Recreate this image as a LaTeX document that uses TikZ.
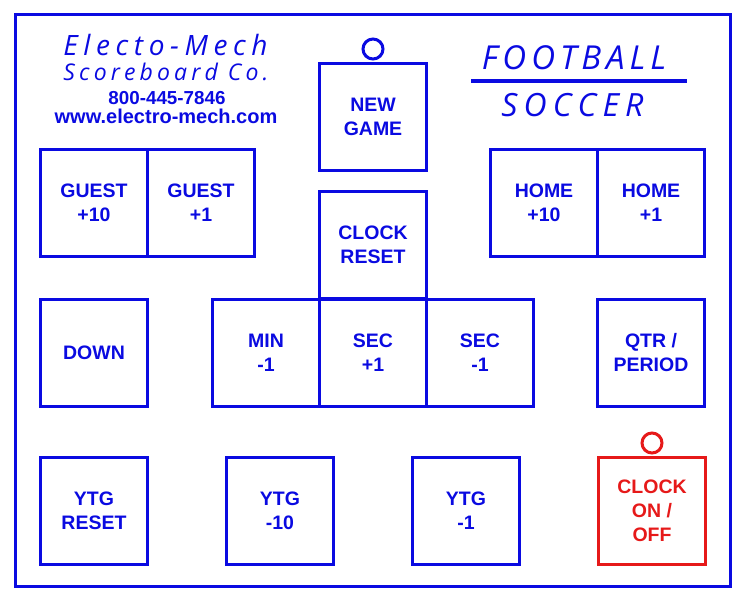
\documentclass[tikz,border=0pt]{standalone}
\usepackage{fontspec}
\setmainfont{Liberation Sans}
\newfontfamily\logoA[LetterSpace=20]{Open Sans}
\newfontfamily\logoB[LetterSpace=18]{Open Sans}
\newfontfamily\titleA[LetterSpace=15]{Open Sans}
\newfontfamily\titleB[LetterSpace=19]{Open Sans}
\definecolor{pblue}{RGB}{10,10,225}
\definecolor{pred}{RGB}{230,25,25}
\begin{document}
\begin{tikzpicture}[x=1pt,y=-1pt,
  btn/.style={draw=pblue, line width=3pt, minimum width=107pt, minimum height=107pt,
    inner sep=0pt, align=center, text=pblue, font=\bfseries\fontsize{19.5}{24}\selectfont},
  redbtn/.style={btn, draw=pred, text=pred},
  knob/.style={draw=pblue, line width=3pt, circle, minimum size=20pt, inner sep=0pt},
  redknob/.style={knob, draw=pred},
  label text/.style={anchor=base, text=pblue, inner sep=0pt}]
\useasboundingbox (0,0) rectangle (750,606);
% outer frame
\node[draw=pblue, line width=3pt, minimum width=715pt, minimum height=572pt, inner sep=0pt] (frame) at (372.5,300) {};
% logo texts
\node[label text, font=\logoA\itshape\fontsize{28}{28}\selectfont] (brand) at (165.5,55) {Electo-Mech};
\node[label text, font=\logoB\itshape\fontsize{23}{23}\selectfont] (company) at (166,80) {Scoreboard Co.};
\node[label text, font=\bfseries\fontsize{18.8}{18.8}\selectfont] (phone) at (167,104) {800-445-7846};
\node[label text, font=\bfseries\fontsize{20}{20}\selectfont] (web) at (166,123) {www.electro-mech.com};
% title
\node[label text, font=\titleA\itshape\fontsize{33}{33}\selectfont] (football) at (574,69) {FOOTBALL};
\node[label text, font=\titleB\itshape\fontsize{32}{32}\selectfont] (soccer) at (572.5,116) {SOCCER};
\coordinate (ruleL) at (471,81);
\coordinate (ruleR) at (687,81);
\draw[pblue, line width=4pt] (ruleL) -- (ruleR);
% buttons
\node[btn] (newgame) at (373,117) {NEW\\GAME};
\node[knob] (newknob) at (373,49) {};
\node[btn] (guest10) at (94,203) {GUEST\\+10};
\node[btn] (guest1) at (201,203) {GUEST\\+1};
\node[btn] (home10) at (544,203) {HOME\\+10};
\node[btn] (home1) at (651,203) {HOME\\+1};
\node[btn] (clockreset) at (373,245) {CLOCK\\RESET};
\node[btn] (down) at (94,353) {DOWN};
\node[btn] (min1) at (266,353) {MIN\\-1};
\node[btn] (secplus) at (373,353) {SEC\\+1};
\node[btn] (secminus) at (480,353) {SEC\\-1};
\node[btn] (qtr) at (651,353) {QTR /\\PERIOD};
\node[btn] (ytgreset) at (94,511) {YTG\\RESET};
\node[btn] (ytg10) at (280,511) {YTG\\-10};
\node[btn] (ytg1) at (466,511) {YTG\\-1};
\node[redbtn] (clockonoff) at (652,511) {CLOCK\\ON /\\OFF};
\node[redknob] (clockknob) at (652,443) {};
\end{tikzpicture}
\end{document}
